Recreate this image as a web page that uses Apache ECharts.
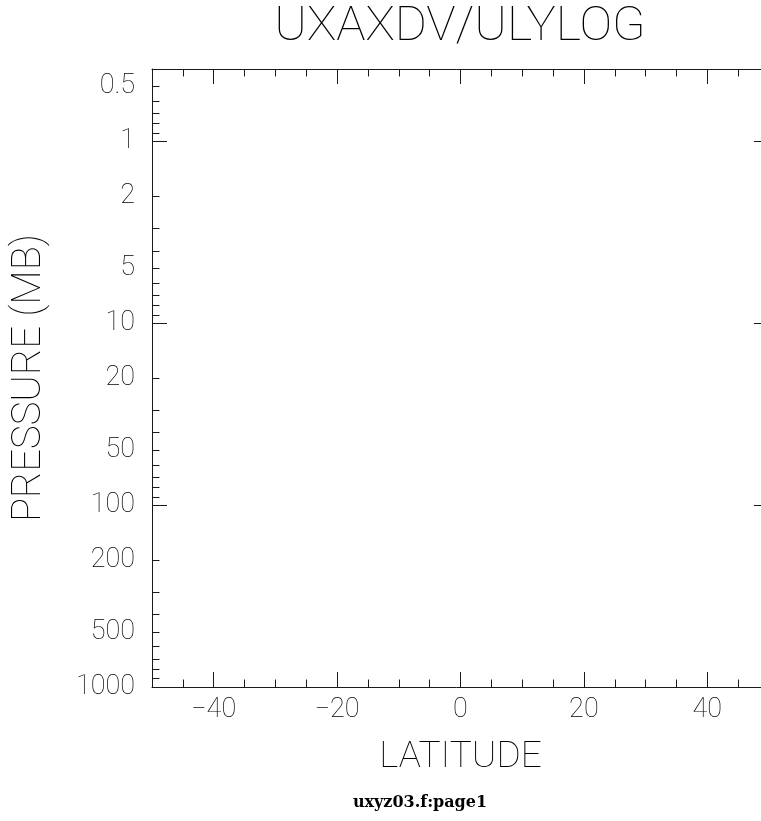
<!DOCTYPE html>
<html>
<head>
<meta charset="utf-8">
<script src="https://cdn.jsdelivr.net/npm/echarts@6/dist/echarts.min.js"></script>
<style>
html,body{margin:0;padding:0;background:#fff;}
#chart{width:761px;height:821px;}
</style>
</head>
<body>
<div id="chart"></div>
<script>
// ---- chart content ----
const titleText = 'UXAXDV/ULYLOG';
const xAxisName = 'LATITUDE';
const yAxisName = 'PRESSURE (MB)';
const footerText = 'uxyz03.f:page1';

// latitude axis
const latMin = -50;
const latMax = 50;
const latMinorStep = 5;
const latMajorTicks = [-40, -20, 0, 20, 40];
const latLabels = [-40, -20, 0, 20, 40];

// pressure axis (log)
const presMin = 0.4;
const presMax = 1000;
const presLabels = [0.5, 1, 2, 5, 10, 20, 50, 100, 200, 500, 1000];
const presMajorTicks = [1, 10, 100, 1000];
const presMinorTicks = [0.5, 0.6, 0.7, 0.8, 0.9,
  2, 3, 4, 5, 6, 7, 8, 9,
  20, 30, 40, 50, 60, 70, 80, 90,
  200, 300, 400, 500, 600, 700, 800, 900];

// ---- styling ----
const ink = '#1a1a1a';
const textInk = '#000';
const lineW = 1;
const thinFont = 'Roboto';
const thinWeight = 100;
const majorLen = 15;
const minorLen = 7.5;

const chart = echarts.init(document.getElementById('chart'), null, {renderer: 'canvas'});

function latFmt(v) {
  v = Math.round(v);
  return v < 0 ? '\u2212' + Math.abs(v) : String(v);
}
function presFmt(v) {
  return String(+(+v).toPrecision(4));
}

const baseLine = {color: ink, width: lineW};

function xAx(position, major, withLabels) {
  const ax = {
    type: 'value', gridIndex: 0, position: position,
    min: latMin, max: latMax,
    splitLine: {show: false},
    axisLine: {show: !major, onZero: false, lineStyle: baseLine},
    axisTick: {show: true, inside: true, length: major ? majorLen : minorLen, lineStyle: baseLine},
    axisLabel: {show: false},
    nameMoveOverlap: false
  };
  if (major) {
    ax.axisTick.customValues = latMajorTicks;
    if (withLabels) {
      ax.axisLabel = {
        show: true, customValues: latLabels, formatter: latFmt,
        margin: 10, color: textInk, fontFamily: thinFont, fontWeight: thinWeight, fontSize: 27
      };
      ax.name = xAxisName;
      ax.nameLocation = 'middle';
      ax.nameGap = 52;
      ax.nameTextStyle = {color: textInk, fontFamily: thinFont, fontWeight: thinWeight, fontSize: 37};
    }
  } else {
    ax.interval = latMinorStep;
  }
  return ax;
}

function yAx(position, major, withLabels) {
  const ax = {
    type: 'log', logBase: 10, gridIndex: 0, position: position,
    min: presMin, max: presMax, inverse: true,
    splitLine: {show: false},
    minorTick: {show: false},
    axisLine: {show: !major, onZero: false, lineStyle: baseLine},
    axisTick: {show: true, inside: true, length: major ? majorLen : minorLen, lineStyle: baseLine,
      customValues: major ? presMajorTicks : presMinorTicks},
    axisLabel: {show: false},
    nameMoveOverlap: false
  };
  if (major && withLabels) {
    ax.axisLabel = {
      show: true, customValues: presLabels, formatter: presFmt,
      margin: 17, color: textInk, fontFamily: thinFont, fontWeight: thinWeight, fontSize: 27
    };
    ax.name = yAxisName;
    ax.nameLocation = 'middle';
    ax.nameGap = 102;
    ax.nameTextStyle = {color: textInk, fontFamily: thinFont, fontWeight: thinWeight, fontSize: 40};
  }
  return ax;
}

const option = {
  backgroundColor: '#fff',
  animation: false,
  grid: {
    left: 152, top: 69, width: 617, height: 618,
    containLabel: false,
    outerBoundsMode: 'none',
    show: false
  },
  xAxis: [
    xAx('bottom', false, false),
    xAx('bottom', true, true),
    xAx('top', false, false),
    xAx('top', true, false)
  ],
  yAxis: [
    yAx('left', false, false),
    yAx('left', true, true),
    yAx('right', false, false),
    yAx('right', true, false)
  ],
  series: [{
    type: 'line', xAxisIndex: 0, yAxisIndex: 0, data: [], silent: true
  }],
  graphic: {
    elements: [
      {
        type: 'text', x: 460, y: 28,
        style: {
          text: titleText, align: 'center', verticalAlign: 'middle',
          fill: textInk, fontFamily: thinFont, fontWeight: thinWeight, fontSize: 49
        }
      },
      {
        type: 'text', x: 420, y: 803,
        style: {
          text: footerText, align: 'center', verticalAlign: 'middle',
          fill: '#000', fontFamily: 'DejaVu Serif', fontWeight: 'bold', fontSize: 16
        }
      }
    ]
  }
};

chart.setOption(option);
</script>
</body>
</html>
